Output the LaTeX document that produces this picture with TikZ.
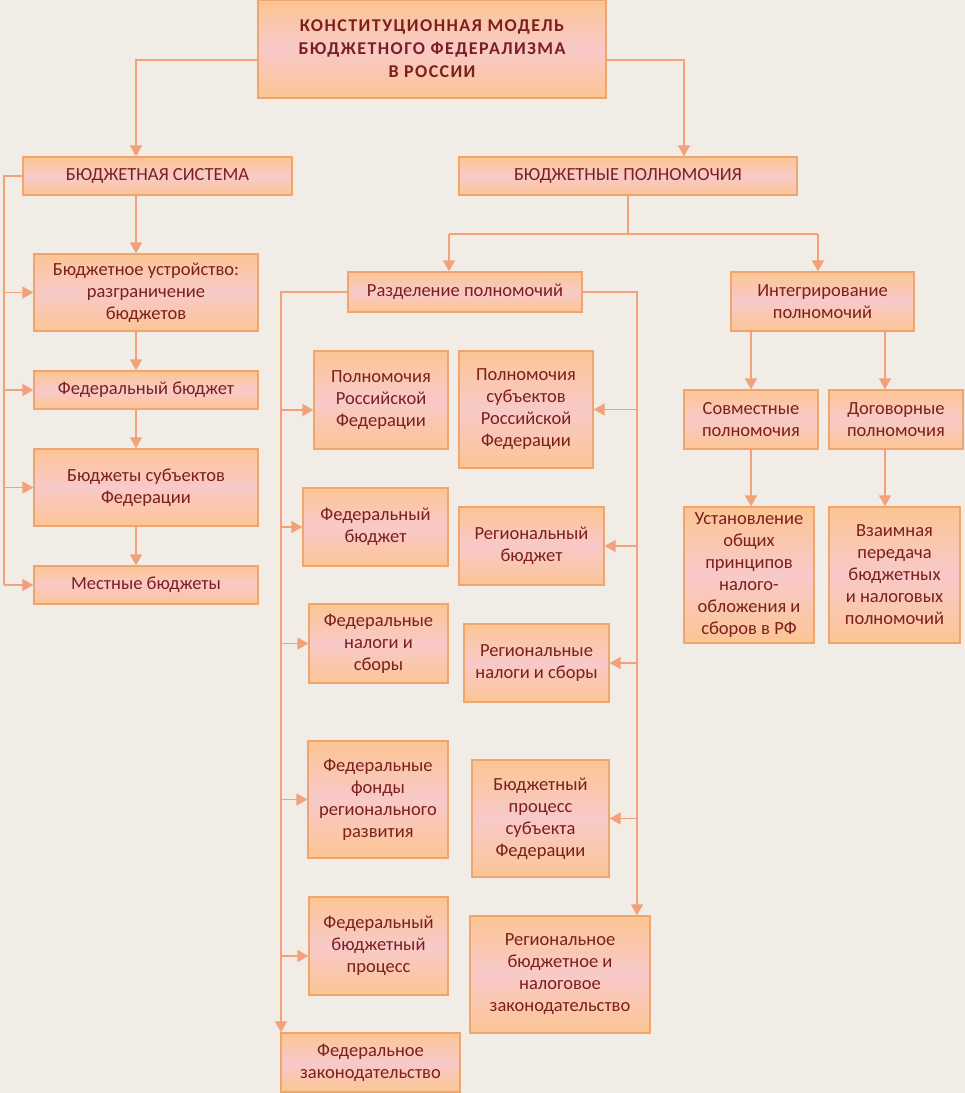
\documentclass[tikz,border=0pt]{standalone}
\usepackage{fontspec}
\setmainfont{Carlito}
\newfontfamily\titlefont[LetterSpace=8]{Carlito}
\usetikzlibrary{arrows.meta}
\definecolor{bg}{HTML}{F1EDE6}
\definecolor{ln}{HTML}{F3A17A}
\definecolor{bd}{HTML}{EFA56E}
\definecolor{fo}{HTML}{FCC593}
\definecolor{fp}{HTML}{F8C9C9}
\definecolor{tx}{HTML}{7B1F1F}
\tikzset{
  box/.style={draw=bd, line width=1.3pt, top color=fo, bottom color=fo, middle color=fp,
    text=tx, align=center, inner sep=0pt, font=\fontsize{18.5}{22}\selectfont},
  titlebox/.style={box, font=\titlefont\bfseries\fontsize{18}{23}\selectfont},
  conn/.style={draw=ln, line width=1.5pt},
  arr/.style={conn, -{Triangle[length=11pt,width=12pt]}},
}
\newcommand\bx[7][box]{\node[#1, minimum width={(#5-#3)*1pt}, minimum height={(#6-#4)*1pt}] (#2) at ({(#3+#5)/2},{(#4+#6)/2}) {#7};}
\begin{document}
\begin{tikzpicture}[x=1pt,y=-1pt]
\fill[bg] (0,0) rectangle (965,1093);
\useasboundingbox (0,0) rectangle (965,1093);

\bx[titlebox]{title}{258}{0}{606}{98}{КОНСТИТУЦИОННАЯ МОДЕЛЬ\\БЮДЖЕТНОГО ФЕДЕРАЛИЗМА\\В РОССИИ}
\bx{bs}{23}{157}{292}{195}{БЮДЖЕТНАЯ СИСТЕМА}
\bx{bp}{459}{157}{797}{195}{БЮДЖЕТНЫЕ ПОЛНОМОЧИЯ}
\bx{bu}{34}{254}{258}{331}{Бюджетное устройство:\\разграничение\\бюджетов}
\bx{fb}{34}{371}{258}{409}{Федеральный бюджет}
\bx{bsub}{34}{449}{258}{526}{Бюджеты субъектов\\Федерации}
\bx{mb}{34}{566}{258}{604}{Местные бюджеты}
\bx{razd}{348}{272}{582}{312}{Разделение полномочий}
\bx{integ}{731}{272}{914}{331}{Интегрирование\\полномочий}
\bx{prf}{314}{351}{448}{449}{Полномочия\\Российской\\Федерации}
\bx{psub}{459}{351}{593}{468}{Полномочия\\субъектов\\Российской\\Федерации}
\bx{fb2}{303}{488}{448}{566}{Федеральный\\бюджет}
\bx{rb}{459}{507}{604}{585}{Региональный\\бюджет}
\bx{fn}{309}{604}{448}{683}{Федеральные\\налоги и\\сборы}
\bx{rn}{464}{624}{609}{702}{Региональные\\налоги и сборы}
\bx{ff}{308}{741}{448}{858}{Федеральные\\фонды\\регионального\\развития}
\bx{bps}{472}{760}{609}{877}{Бюджетный\\процесс\\субъекта\\Федерации}
\bx{fbp}{309}{897}{448}{995}{Федеральный\\бюджетный\\процесс}
\bx{rz}{470}{916}{650}{1033}{Региональное\\бюджетное и\\налоговое\\законодательство}
\bx{fz}{281}{1033}{460}{1092}{Федеральное\\законодательство}
\bx{sovm}{684}{390}{818}{449}{Совместные\\полномочия}
\bx{dog}{829}{390}{963}{449}{Договорные\\полномочия}
\bx{ust}{684}{507}{814}{643}{Установление\\общих\\принципов\\налого-\\обложения и\\сборов в РФ}
\bx{vz}{829}{507}{960}{643}{Взаимная\\передача\\бюджетных\\и налоговых\\полномочий}

% named columns / rows
\coordinate (cL) at (136,0);
\coordinate (cR) at (684,0);
\coordinate (bus1) at (4,0);
\coordinate (row) at (0,234);
\coordinate (cRz) at (449,0);
\coordinate (cIn) at (818,0);
\coordinate (bus2) at (281,0);
\coordinate (bus3) at (637,0);
\coordinate (cS) at (751,0);
\coordinate (cD) at (885,0);
\coordinate (prfA) at ([yshift=-10pt]prf.west);
\coordinate (fbpA) at ([yshift=-10pt]fbp.west);
\coordinate (tW) at ([yshift=-11pt]title.west);
\coordinate (tE) at ([yshift=-11pt]title.east);

% title
\draw[arr] (tW) -| (cL |- bs.north);
\draw[arr] (tE) -| (cR |- bp.north);

% budget system chain
\draw[arr] (cL |- bs.south) -- (cL |- bu.north);
\draw[arr] (cL |- bu.south) -- (cL |- fb.north);
\draw[arr] (cL |- fb.south) -- (cL |- bsub.north);
\draw[arr] (cL |- bsub.south) -- (cL |- mb.north);
\draw[conn] (bs.west) -- (bus1 |- bs.west) -- (bus1 |- mb.west);
\draw[arr] (bus1 |- bu.west) -- (bu.west);
\draw[arr] (bus1 |- fb.west) -- (fb.west);
\draw[arr] (bus1 |- bsub.west) -- (bsub.west);
\draw[arr] (bus1 |- mb.west) -- (mb.west);

% budget powers split
\draw[conn] (bp.south) -- (bp.south |- row);
\draw[conn] (cRz |- row) -- (cIn |- row);
\draw[arr] (cRz |- row) -- (cRz |- razd.north);
\draw[arr] (cIn |- row) -- (cIn |- integ.north);

% separation: left bus
\draw[arr] (razd.west) -- (bus2 |- razd.west) -- (bus2 |- fz.north);
\draw[arr] (bus2 |- prfA) -- (prfA);
\draw[arr] (bus2 |- fb2.west) -- (fb2.west);
\draw[arr] (bus2 |- fn.west) -- (fn.west);
\draw[arr] (bus2 |- ff.west) -- (ff.west);
\draw[arr] (bus2 |- fbpA) -- (fbpA);

% separation: right bus
\draw[arr] (razd.east) -- (bus3 |- razd.east) -- (bus3 |- rz.north);
\draw[arr] (bus3 |- psub.east) -- (psub.east);
\draw[arr] (bus3 |- rb.east) -- (rb.east);
\draw[arr] (bus3 |- rn.east) -- (rn.east);
\draw[arr] (bus3 |- bps.east) -- (bps.east);

% integration
\draw[arr] (cS |- integ.south) -- (cS |- sovm.north);
\draw[arr] (cD |- integ.south) -- (cD |- dog.north);
\draw[arr] (cS |- sovm.south) -- (cS |- ust.north);
\draw[arr] (cD |- dog.south) -- (cD |- vz.north);
\end{tikzpicture}
\end{document}
